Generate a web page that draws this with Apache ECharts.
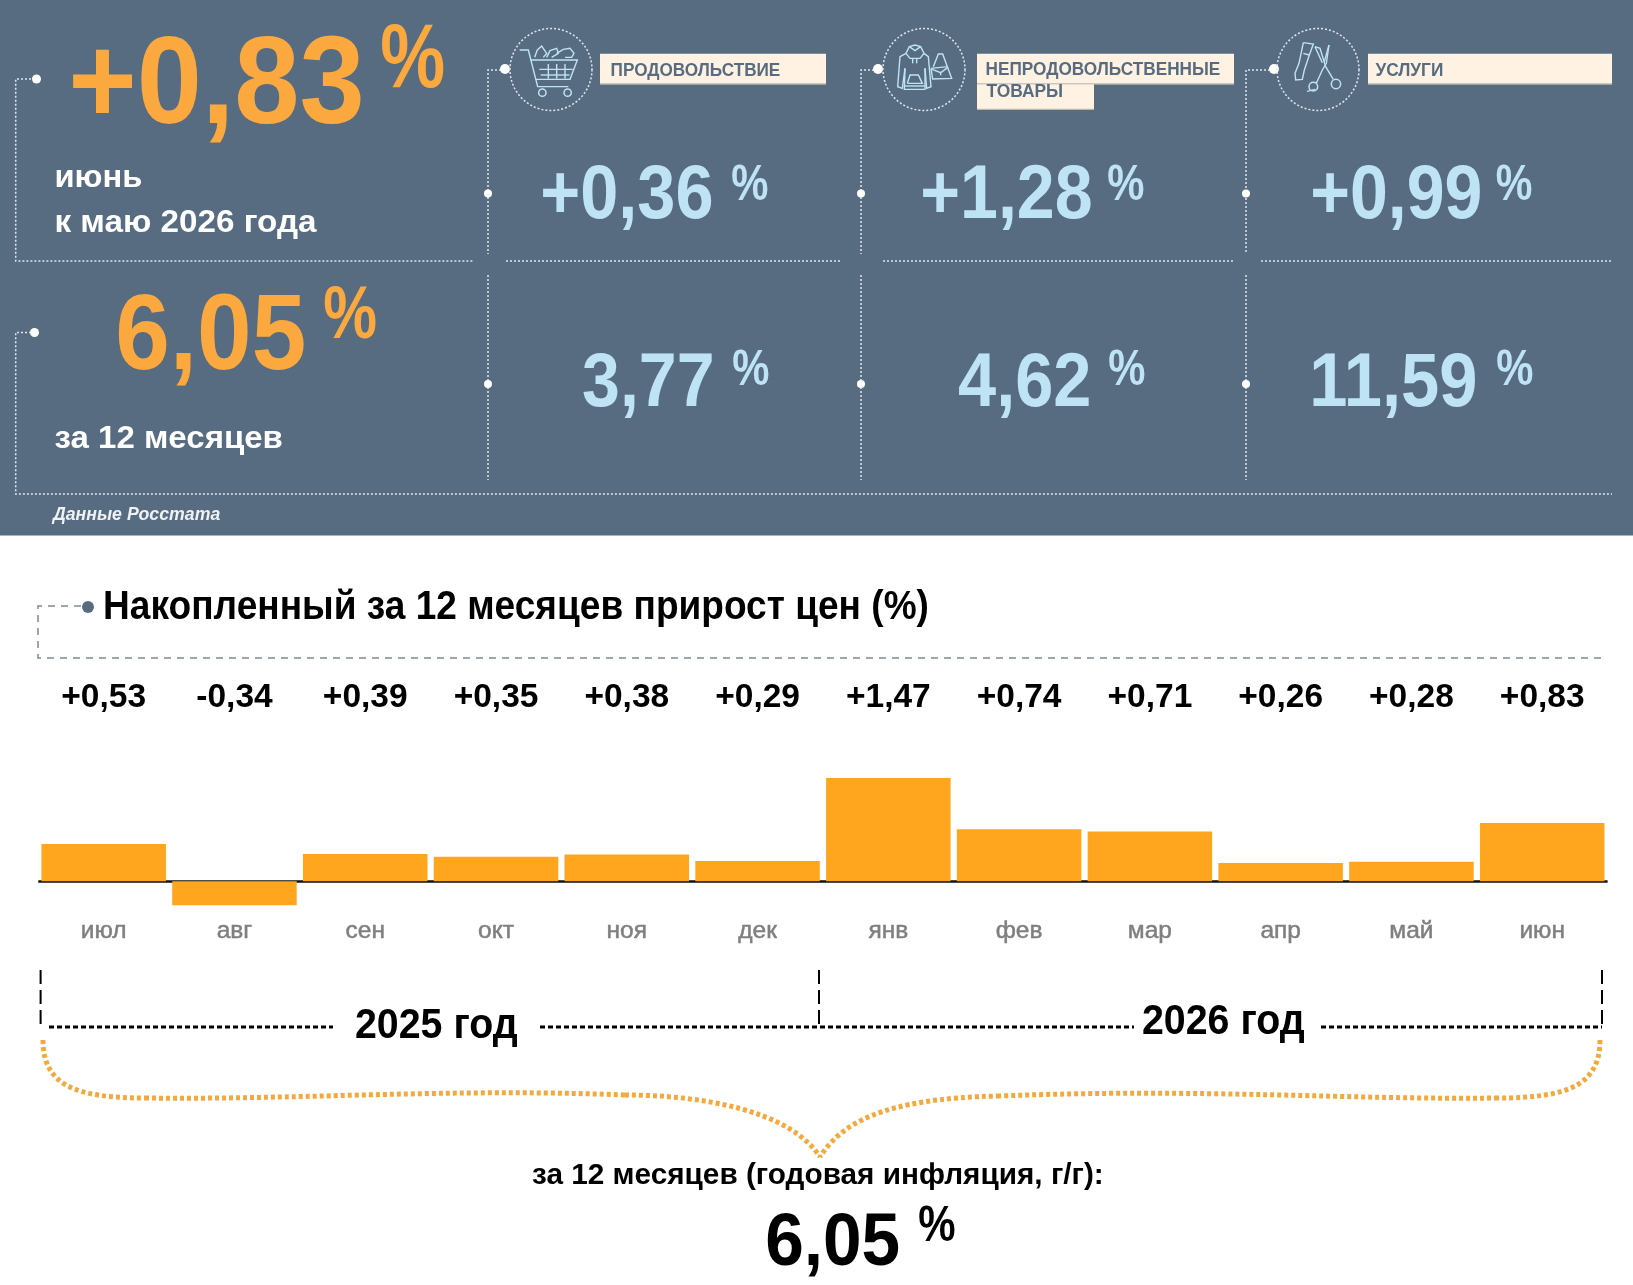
<!DOCTYPE html>
<html><head><meta charset="utf-8">
<script src="https://cdn.jsdelivr.net/npm/echarts@6/dist/echarts.min.js"></script>
<style>html,body{margin:0;padding:0;background:#fff}#c{width:1633px;height:1285px}</style>
</head><body><div id="c"></div>
<script>
const months = ['июл','авг','сен','окт','ноя','дек','янв','фев','мар','апр','май','июн'];
const monthly = [0.53,-0.34,0.39,0.35,0.38,0.29,1.47,0.74,0.71,0.26,0.28,0.83];
const kpiMonth = '+0,83', kpiYear = '6,05';
const sectors = ['ПРОДОВОЛЬСТВИЕ','НЕПРОДОВОЛЬСТВЕННЫЕ','ТОВАРЫ','УСЛУГИ'];
const sectorMonth = ['+0,36','+1,28','+0,99'];
const sectorYear = ['3,77','4,62','11,59'];
const years = ['2025 год','2026 год'];
const titleText = 'Накопленный за 12 месяцев прирост цен (%)';
const annualText = 'за 12 месяцев (годовая инфляция, г/г):';

const BG='#586c81', OR='#fba93f', BL='#bde3f4', WH='#ffffff', BAR='#ffa61e', F='"Liberation Sans"';
const W=[];
const ctx=document.createElement('canvas').getContext('2d');
function fit(text,x0,x1,cy,size,color,weight='bold',style='normal'){
  const font=`${style} ${weight} ${size}px ${F}`;
  ctx.font=font;
  const m=ctx.measureText(text);
  const ink=m.actualBoundingBoxRight+m.actualBoundingBoxLeft;
  const sx=(x1-x0)/ink;
  W.push({type:'text',x:x0+m.actualBoundingBoxLeft*sx,y:cy,scaleX:sx,silent:true,
    style:{text,font,fill:color,textAlign:'left',textVerticalAlign:'middle'}});
}
// fit by reference glyph ink box: x0..x1 horizontally, top..bot for the reference glyph
function fit2(text,x0,x1,top,bot,size,color,refGlyph='0'){
  const font=`bold ${size}px ${F}`;
  ctx.font=font;
  const m=ctx.measureText(text);
  const sx=(x1-x0)/(m.actualBoundingBoxRight+m.actualBoundingBoxLeft);
  ctx.textBaseline='middle';
  const g=ctx.measureText(refGlyph);
  ctx.textBaseline='alphabetic';
  const sy=(bot-top)/(g.actualBoundingBoxAscent+g.actualBoundingBoxDescent);
  W.push({type:'text',x:x0+m.actualBoundingBoxLeft*sx,y:top+g.actualBoundingBoxAscent*sy,scaleX:sx,scaleY:sy,silent:true,
    style:{text,font,fill:color,textAlign:'left',textVerticalAlign:'middle'}});
}
function line(pts,color,w,dash){
  W.push({type:'polyline',silent:true,shape:{points:pts},style:{stroke:color,lineWidth:w,lineDash:dash||null,fill:null}});
}
function dot(x,y,r,color){W.push({type:'circle',silent:true,shape:{cx:x,cy:y,r},style:{fill:color}});}
function rect(x,y,w,h,fill){W.push({type:'rect',silent:true,shape:{x,y,width:w,height:h},style:{fill}});}

rect(0,0,1633,535.5,BG);

// dotted frame lines
const DOT=[2,2], LC='#dfe6ec';
line([[35,79],[15.7,79],[15.7,261],[473,261]],LC,1.5,DOT);
line([[35,332.5],[15.7,332.5],[15.7,494],[1612,494]],LC,1.5,DOT);
[[488,505,506,841],[861,878,883,1234],[1246,1274,1261,1612]].forEach(([x,tx,h0,h1])=>{
  line([[tx,70],[x,70],[x,254]],LC,1.5,DOT);
  line([[x,275],[x,480]],LC,1.5,DOT);
  line([[h0,261],[h1,261]],LC,1.5,DOT);
  dot(tx,69,5,WH);dot(x,193.5,4,WH);dot(x,384,4,WH);
});
dot(36.5,79,4.5,WH);dot(34.5,332.5,4.5,WH);
[551,924,1318].forEach(cx=>W.push({type:'circle',silent:true,shape:{cx,cy:69.5,r:41},style:{fill:null,stroke:LC,lineWidth:1.5,lineDash:DOT}}));

// label plates
const PL='#fff2e2', PB='#b9b9b2';
[[600,53.8,226,30.4],[977,53.8,257,30.4],[977,84.2,117,25.6],[1368,53.8,244,30.4]].forEach(([x,y,w,h])=>{
  rect(x,y,w,h,PL);rect(x,y+h-1,w,1.2,PB);
});
fit(sectors[0],611.5,780,70.5,18.5,BG);
fit(sectors[1],986.5,1220,69.5,18.5,BG);
fit(sectors[2],986.5,1062,91.5,18.5,BG);
fit(sectors[3],1375.5,1443,70.5,18.5,BG);

// headline numbers
fit2(kpiMonth,73,361,35,124,122,OR);
fit2('%',382,443.5,24,88,89,OR,'%');
fit2(kpiYear,118,304,292.5,369.5,107,OR);
fit2('%',324,375.5,286,339,74,OR,'%');
fit('июнь',56.5,142,178,31.5,WH);
fit('к маю 2026 года',56.5,317,223,31.5,WH);
fit('за 12 месяцев',54.5,282.5,439,31.5,WH);
fit('Данные Росстата',51,220,515,18.5,'#eef2f5','bold','italic');

// sector numbers
[[543,711,732,768],[923,1091,1108,1144],[1313,1480,1496.5,1532]].forEach((p,i)=>{
  fit2(sectorMonth[i],p[0],p[1],165,219,75,BL);
  fit2('%',p[2],p[3],164,200,50,BL,'%');
});
[[583,712,733,769],[959,1089,1109,1145],[1313,1475,1497,1533]].forEach((p,i)=>{
  fit2(sectorYear[i],p[0],p[1],353,407,75,BL);
  fit2('%',p[2],p[3],348.5,384.5,50,BL,'%');
});

// icons: outlines in 3x local coordinates
function icon(ox,oy,lines,circles){
  lines.forEach(l=>line(l.map(([a,b])=>[ox+a/3,oy+b/3]),BL,1.4));
  circles.forEach(([a,b,r])=>W.push({type:'circle',silent:true,shape:{cx:ox+a/3,cy:oy+b/3,r:r/3},style:{fill:null,stroke:BL,lineWidth:1.5}}));
}
icon(500,20,[
 [[59,90],[85,90],[113,200],[205,200]],
 [[92,120],[232,120],[210,178],[108,178]],
 [[118,148],[218,148]],[[122,165],[208,165]],
 [[145,132],[145,176]],[[170,132],[170,176]],[[195,132],[195,176]],
 [[104,112],[112,90],[125,78],[140,100],[130,112]],
 [[140,112],[150,92],[170,85],[175,100],[155,112]],
 [[170,100],[190,88],[210,85],[222,100],[215,112],[195,112]]
],[[127,218,11],[203,218,11]]);
icon(870,20,[
 [[108,100],[118,80],[135,75],[152,80],[162,100],[150,115],[120,115],[108,100]],
 [[118,80],[135,92],[152,80]],
 [[108,100],[90,110],[83,200],[97,205],[105,145]],
 [[105,145],[103,208],[165,208],[165,145]],
 [[162,100],[175,110],[183,200],[170,205],[165,145]],
 [[112,190],[120,165],[145,165],[157,190],[112,190]],
 [[128,115],[128,130]],[[140,115],[140,130]],
 [[103,198],[165,198]],
 [[190,140],[205,102],[218,102],[232,140]],
 [[183,145],[232,140],[245,175],[188,177],[183,145]],
 [[186,148],[212,158],[234,142]],
 [[212,156],[212,166]]
],[]);
icon(1265,20,[
 [[115,68],[145,72],[133,105],[118,150],[112,178],[92,180],[90,160],[102,130],[115,68]],
 [[115,100],[133,105]],
 [[150,80],[165,85],[182,140],[205,178]],
 [[150,80],[172,128]],
 [[192,75],[184,130],[172,150],[154,190]],
 [[192,75],[178,125]],
 [[126,214],[150,208]]
],[[145,200,13],[213,192,14]]);

// title block
line([[81,606],[38,606],[38,658],[1605,658]],'#7d8a97',1.5,[7,6]);
dot(88,607,6,BG);
fit2(titleText,105,928,590,618.5,39,'#000','1');

// year brackets
[40.6,819,1602].forEach(x=>line([[x,970],[x,1028]],'#000',2,[14,6]));
[[49,333],[540,1134],[1321,1602]].forEach(([a,b])=>line([[a,1027],[b,1027]],'#000',3,[5,3]));
fit2(years[0],356,518,1008.5,1037.5,39,'#000');
fit2(years[1],1143,1305,1004.5,1034,39,'#000');

// brace
const BR={stroke:'#f4a93f',lineWidth:5,lineDash:[4,3],fill:null};
[
 [43,1040,43,1085,75,1098,145,1098],
 [145,1098,300,1100,450,1088,625,1095],
 [625,1095,700,1095,790,1110,820,1157],
 [1600,1040,1600,1085,1568,1098,1498,1098],
 [1498,1098,1350,1100,1200,1088,1000,1096],
 [1000,1096,880,1098,840,1125,820,1157]
].forEach(([x1,y1,cpx1,cpy1,cpx2,cpy2,x2,y2])=>W.push({type:'bezierCurve',silent:true,
  shape:{x1,y1,cpx1,cpy1,cpx2,cpy2,x2,y2},style:BR}));

fit(annualText,532,1101,1176,29,'#000');
fit2(kpiYear,767,899,1213,1266,74,'#000');
fit2('%',919,955,1206,1241,49,'#000','%');

const fmt=v=>(v>0?'+':'')+v.toFixed(2).replace('.',',');
const chart=echarts.init(document.getElementById('c'),null,{renderer:'canvas'});
chart.setOption({
  animation:false,
  backgroundColor:'#fff',
  graphic:{elements:W},
  grid:{left:38.3,width:1569.3,top:719.5,height:190,containLabel:false},
  xAxis:[
   {type:'category',data:months,position:'bottom',
    axisLine:{onZero:true,lineStyle:{color:'#111',width:2.5,cap:'butt'}},axisTick:{show:false},
    axisLabel:{interval:0,margin:9,color:'#7f7f7f',fontSize:24.5,fontFamily:F,textBorderColor:'#7f7f7f',textBorderWidth:0.5}},
   {type:'category',data:monthly.map(fmt),position:'top',
    axisLine:{show:false,onZero:false},axisTick:{show:false},
    axisLabel:{interval:0,margin:4.5,color:'#000',fontSize:33.5,fontWeight:'bold',fontFamily:F}}
  ],
  yAxis:{type:'value',min:-0.4,max:2.3,show:false,splitLine:{show:false}},
  series:[{type:'bar',data:monthly,barCategoryGap:'4.8%',itemStyle:{color:BAR},silent:true}]
});
</script></body></html>
